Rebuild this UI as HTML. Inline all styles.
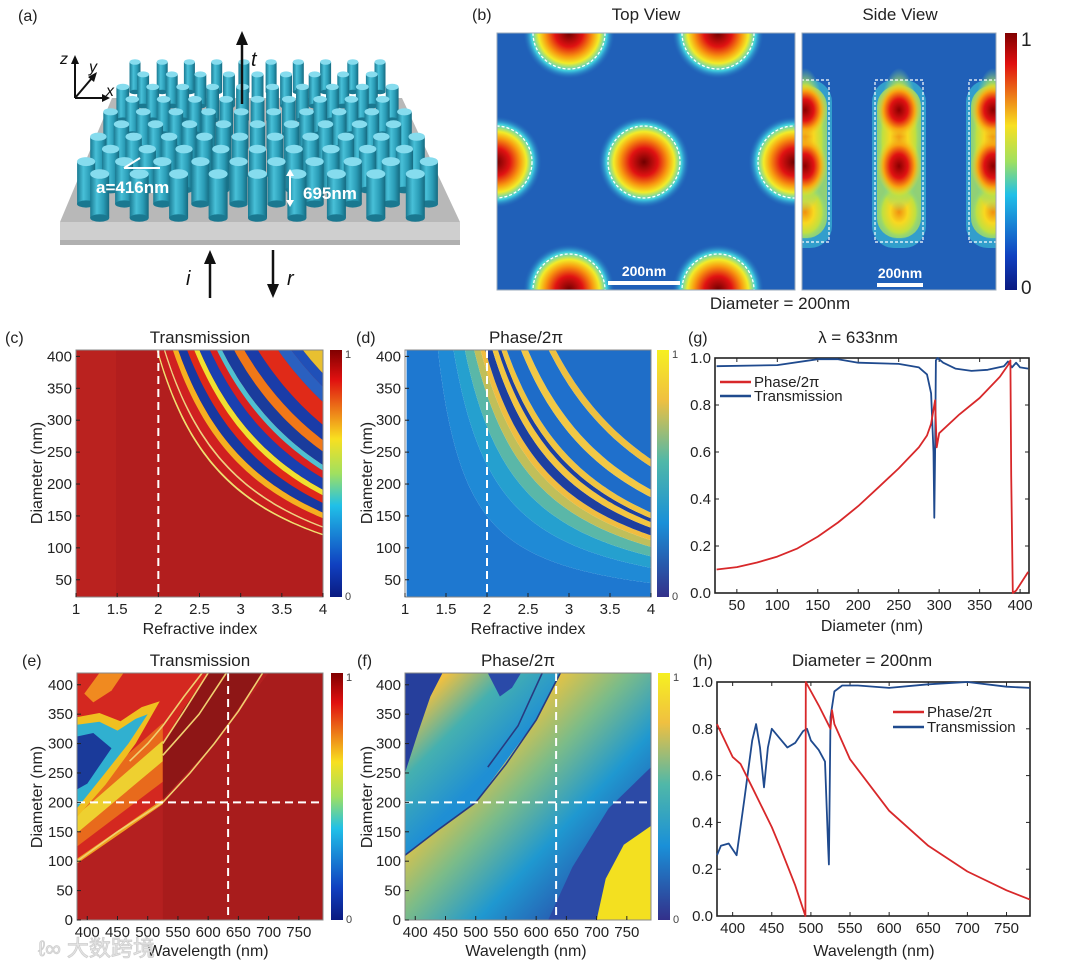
<!DOCTYPE html>
<html><head><meta charset="utf-8">
<style>
html,body{margin:0;padding:0;background:#fff;}
svg{display:block;font-family:"Liberation Sans","Noto Sans CJK SC",sans-serif;}
.t{font-size:15px;fill:#222;}
.ti{font-size:17px;fill:#222;}
.lab{font-size:16px;fill:#222;}
.ax{font-size:16px;fill:#222;}
</style></head><body>
<svg id="fig" width="1080" height="966" viewBox="0 0 1080 966" xmlns="http://www.w3.org/2000/svg">
<defs>
<clipPath id="clipC"><rect x="76" y="350" width="247" height="247"/></clipPath>
<clipPath id="clipD"><rect x="405" y="350" width="246" height="247"/></clipPath>
<clipPath id="clipE"><rect x="77" y="673" width="246" height="247"/></clipPath>
<clipPath id="clipF"><rect x="405" y="673" width="246" height="247"/></clipPath>
<clipPath id="clipTop"><rect x="497" y="33" width="298" height="257"/></clipPath>
<clipPath id="clipSide"><rect x="802" y="33" width="194" height="257"/></clipPath>
<linearGradient id="jetV" x1="0" y1="0" x2="0" y2="1">
<stop offset="0" stop-color="#800000"/><stop offset="0.12" stop-color="#e01010"/><stop offset="0.36" stop-color="#f8e020"/><stop offset="0.5" stop-color="#a0e060"/><stop offset="0.63" stop-color="#20c0e8"/><stop offset="0.87" stop-color="#1040c0"/><stop offset="1" stop-color="#0a1a80"/>
</linearGradient>
<linearGradient id="parV" x1="0" y1="0" x2="0" y2="1">
<stop offset="0" stop-color="#f6f020"/><stop offset="0.2" stop-color="#f0c040"/><stop offset="0.45" stop-color="#50b8a8"/><stop offset="0.7" stop-color="#1a90d8"/><stop offset="1" stop-color="#33308a"/>
</linearGradient>
<radialGradient id="hot" cx="0.5" cy="0.5" r="0.5">
<stop offset="0" stop-color="#700000"/><stop offset="0.3" stop-color="#e01212"/><stop offset="0.52" stop-color="#f89a10"/><stop offset="0.66" stop-color="#f2ec28"/><stop offset="0.82" stop-color="#40d0e0"/><stop offset="1" stop-color="#2060b8" stop-opacity="0"/>
</radialGradient>
<radialGradient id="hotS" cx="0.5" cy="0.5" r="0.5">
<stop offset="0" stop-color="#8a0000"/><stop offset="0.4" stop-color="#e01212"/><stop offset="0.7" stop-color="#f8a010"/><stop offset="1" stop-color="#f2e028" stop-opacity="0"/>
</radialGradient>
<radialGradient id="warm" cx="0.5" cy="0.5" r="0.5">
<stop offset="0" stop-color="#f09010"/><stop offset="0.4" stop-color="#f8d820"/><stop offset="0.75" stop-color="#c0e040"/><stop offset="1" stop-color="#80d890" stop-opacity="0"/>
</radialGradient>
<linearGradient id="cyl" x1="0" y1="0" x2="1" y2="0">
<stop offset="0" stop-color="#1a7a92"/><stop offset="0.35" stop-color="#48c0d8"/><stop offset="0.7" stop-color="#2a9cb6"/><stop offset="1" stop-color="#156a80"/>
</linearGradient>
<linearGradient id="fLow" gradientUnits="userSpaceOnUse" x1="470" y1="760" x2="610" y2="890">
<stop offset="0" stop-color="#f2c43c"/><stop offset="0.3" stop-color="#7cbc88"/><stop offset="0.6" stop-color="#1f98d0"/><stop offset="1" stop-color="#2a4aa8"/>
</linearGradient>
<linearGradient id="fUp" gradientUnits="userSpaceOnUse" x1="500" y1="760" x2="430" y2="690">
<stop offset="0" stop-color="#1f8fd4"/><stop offset="0.55" stop-color="#45b0b0"/><stop offset="1" stop-color="#f0c040"/>
</linearGradient>
</defs>
<rect x="0" y="0" width="1080" height="966" fill="#fff"/>

<g id="panelA">
<text x="18" y="21" class="lab">(a)</text>
<polygon points="112,98 402,98 460,222 60,222" fill="#b8b8b8"/>
<rect x="60" y="222" width="400" height="23" fill="#cfcfcf"/>
<rect x="60" y="240" width="400" height="5" fill="#b0b0b0"/>
<g id="pillars"></g>
<g>
<line x1="75" y1="98" x2="75" y2="62" stroke="#111" stroke-width="2"/>
<polygon points="71,64 79,64 75,55" fill="#111"/>
<line x1="75" y1="98" x2="104" y2="98" stroke="#111" stroke-width="2"/>
<polygon points="102,94 102,102 110,98" fill="#111"/>
<line x1="75" y1="98" x2="92" y2="78" stroke="#111" stroke-width="2"/>
<polygon points="88,77 94,82 97,72" fill="#111"/>
<text x="60" y="64" font-size="16" font-style="italic" fill="#111">z</text>
<text x="89" y="72" font-size="16" font-style="italic" fill="#111">y</text>
<text x="106" y="96" font-size="16" font-style="italic" fill="#111">x</text>
</g>
<g>
<line x1="242" y1="104" x2="242" y2="42" stroke="#111" stroke-width="2.5"/>
<polygon points="236,45 248,45 242,31" fill="#111"/>
<text x="251" y="66" font-size="20" font-style="italic" fill="#111">t</text>
</g>
<g>
<line x1="210" y1="298" x2="210" y2="262" stroke="#111" stroke-width="2.5"/>
<polygon points="204,264 216,264 210,250" fill="#111"/>
<text x="186" y="285" font-size="20" font-style="italic" fill="#111">i</text>
</g>
<g>
<line x1="273" y1="250" x2="273" y2="286" stroke="#111" stroke-width="2.5"/>
<polygon points="267,284 279,284 273,298" fill="#111"/>
<text x="287" y="285" font-size="20" font-style="italic" fill="#111">r</text>
</g>
<g>
<line x1="124" y1="168" x2="160" y2="168" stroke="#fff" stroke-width="2"/>
<line x1="124" y1="168" x2="140" y2="158" stroke="#fff" stroke-width="2"/>
<text x="96" y="193" font-size="17" font-weight="bold" fill="#fff">a=416nm</text>
</g>
<g>
<line x1="290" y1="172" x2="290" y2="204" stroke="#fff" stroke-width="2"/>
<polygon points="286,176 294,176 290,169" fill="#fff"/>
<polygon points="286,200 294,200 290,207" fill="#fff"/>
<text x="303" y="199" font-size="17" font-weight="bold" fill="#fff">695nm</text>
</g>
</g>

<g>
<text x="472" y="20" class="lab">(b)</text>
<text x="646" y="20" text-anchor="middle" class="ti">Top View</text>
<text x="900" y="20" text-anchor="middle" class="ti">Side View</text>
<g clip-path="url(#clipTop)">
<rect x="497" y="33" width="298" height="257" fill="#2060b8"/>
<g id="topBlobs"></g>
</g>
<rect x="497" y="33" width="298" height="257" fill="none" stroke="#9ab" stroke-width="1"/>
<line x1="608" y1="283" x2="680" y2="283" stroke="#fff" stroke-width="4"/>
<text x="644" y="276" text-anchor="middle" font-size="14" font-weight="bold" fill="#fff">200nm</text>
<g clip-path="url(#clipSide)">
<rect x="802" y="33" width="194" height="257" fill="#2060b8"/>
<g id="sideBlobs"></g>
</g>
<rect x="802" y="33" width="194" height="257" fill="none" stroke="#9ab" stroke-width="1"/>
<line x1="877" y1="285" x2="923" y2="285" stroke="#fff" stroke-width="4"/>
<text x="900" y="278" text-anchor="middle" font-size="14" font-weight="bold" fill="#fff">200nm</text>
<rect x="1005" y="33" width="12" height="257" fill="url(#jetV)"/>
<text x="1021" y="46" font-size="19" fill="#222">1</text>
<text x="1021" y="294" font-size="19" fill="#222">0</text>
<text x="780" y="309" text-anchor="middle" class="ti">Diameter = 200nm</text>
</g>

<g id="heatC" clip-path="url(#clipC)"><rect x="76" y="350" width="247" height="247" fill="#b21e1e"/><rect x="76" y="350" width="40" height="247" fill="#c22620" opacity="0.5"/></g>
<g id="heatD" clip-path="url(#clipD)"></g>
<g id="heatE" clip-path="url(#clipE)"></g>
<g id="heatF" clip-path="url(#clipF)"></g>
<g id="axesLayer"></g>
<g id="linesLayer"></g>

<rect x="330" y="350" width="12" height="247" fill="url(#jetV)"/>
<text x="345" y="358" font-size="11" fill="#444">1</text><text x="345" y="600" font-size="11" fill="#444">0</text>
<rect x="657" y="350" width="12" height="247" fill="url(#parV)"/>
<text x="672" y="358" font-size="11" fill="#444">1</text><text x="672" y="600" font-size="11" fill="#444">0</text>
<rect x="331" y="673" width="12" height="247" fill="url(#jetV)"/>
<text x="346" y="681" font-size="11" fill="#444">1</text><text x="346" y="923" font-size="11" fill="#444">0</text>
<rect x="658" y="673" width="12" height="247" fill="url(#parV)"/>
<text x="673" y="681" font-size="11" fill="#444">1</text><text x="673" y="923" font-size="11" fill="#444">0</text>

<text x="5" y="343" class="lab">(c)</text>
<text x="200" y="343" text-anchor="middle" class="ti">Transmission</text>
<text x="356" y="343" class="lab">(d)</text>
<text x="526" y="343" text-anchor="middle" class="ti">Phase/2π</text>
<text x="688" y="343" class="lab">(g)</text>
<text x="858" y="343" text-anchor="middle" class="ti">λ = 633nm</text>
<text x="22" y="666" class="lab">(e)</text>
<text x="200" y="666" text-anchor="middle" class="ti">Transmission</text>
<text x="357" y="666" class="lab">(f)</text>
<text x="518" y="666" text-anchor="middle" class="ti">Phase/2π</text>
<text x="693" y="666" class="lab">(h)</text>
<text x="862" y="666" text-anchor="middle" class="ti">Diameter = 200nm</text>

<text transform="translate(42,473) rotate(-90)" text-anchor="middle" class="ax">Diameter (nm)</text>
<text x="200" y="634" text-anchor="middle" class="ax">Refractive index</text>
<text transform="translate(372,473) rotate(-90)" text-anchor="middle" class="ax">Diameter (nm)</text>
<text x="528" y="634" text-anchor="middle" class="ax">Refractive index</text>
<text x="872" y="631" text-anchor="middle" class="ax">Diameter (nm)</text>
<text transform="translate(42,797) rotate(-90)" text-anchor="middle" class="ax">Diameter (nm)</text>
<text x="208" y="956" text-anchor="middle" class="ax">Wavelength (nm)</text>
<text transform="translate(372,797) rotate(-90)" text-anchor="middle" class="ax">Diameter (nm)</text>
<text x="526" y="956" text-anchor="middle" class="ax">Wavelength (nm)</text>
<text x="874" y="956" text-anchor="middle" class="ax">Wavelength (nm)</text>

<text x="38" y="956" font-size="22" fill="#e6e6e6" stroke="#cfcfcf" stroke-width="0.8">ℓ∞ 大数跨境</text>
</svg>
<script>
var NS='http://www.w3.org/2000/svg';
function mk(parent,tag,attrs){var e=document.createElementNS(NS,tag);for(var k in attrs)e.setAttribute(k,attrs[k]);parent.appendChild(e);return e;}
function lin(d0,d1,r0,r1){return function(v){return r0+(v-d0)/(d1-d0)*(r1-r0);};}

var gDiam=[25,50,75,100,125,150,175,200,225,250,275,285,290,293,295,297,300,325,350,375,385,388,389,391,395,410];
var gPhase=[0.10,0.11,0.13,0.155,0.19,0.24,0.30,0.37,0.45,0.53,0.62,0.67,0.72,0.78,0.82,0.62,0.68,0.76,0.83,0.92,0.97,0.99,0.5,0.0,0.01,0.09];
var gTDiam=[25,100,150,175,200,250,275,285,290,293,294,295,296,298,305,320,340,360,380,385,390,395,400,410];
var gTrans=[0.965,0.97,0.995,0.995,0.98,0.975,0.96,0.93,0.85,0.6,0.32,0.6,0.99,1.0,0.98,0.955,0.945,0.95,0.965,0.985,0.96,0.98,0.96,0.955];
var hWave=[380,400,410,425,450,460,480,493,493.5,510,525,527,530,550,600,650,700,750,780];
var hPhase=[0.82,0.68,0.65,0.55,0.38,0.30,0.13,0.0,1.0,0.9,0.8,0.88,0.82,0.67,0.45,0.30,0.19,0.11,0.07];
var hTWave=[380,385,395,405,415,425,430,435,440,445,450,460,470,480,490,495,500,510,518,522,523,525,530,540,560,600,650,700,750,780];
var hTrans=[0.26,0.30,0.31,0.26,0.5,0.75,0.82,0.72,0.55,0.72,0.8,0.76,0.72,0.74,0.79,0.8,0.75,0.71,0.66,0.3,0.22,0.85,0.96,0.985,0.985,0.975,0.99,1.0,0.98,0.975];
var gXTicks=[50,100,150,200,250,300,350,400];
var yTicks01=[0,0.2,0.4,0.6,0.8,1.0];
var hXTicks=[400,450,500,550,600,650,700,750];
var nTicks=[1,1.5,2,2.5,3,3.5,4];
var nTickLabels=['1','1.5','2','2.5','3','3.5','4'];
var dTicksCD=[50,100,150,200,250,300,350,400];
var dTicksEF=[0,50,100,150,200,250,300,350,400];
var wTicks=[400,450,500,550,600,650,700,750];

var cBandC=[400,408,440,448,490,520,570,610,640,700,740,770,840,900,980,1100,1180,1250,1400,2000];
var cBandColor=['#f0e070','#c81e1e','#f0d080','#d02020','#f5b020','#1838a0','#e02818','#f0e030','#1a40b0','#d82020','#50c0d0','#1a3c9c','#f07818','#1a3ca8','#e02a18','#2a60c0','#2050b8','#e8c030','#2a58b8'];
var dBandC=[0,150,230,290,340,375,400,440,470,490,520,600,640,760,800,1400,2000];
var dBandColor=['#1e78d0','#1f8ad6','#25a0cf','#5ab7a8','#c0bf5a','#f0bd40','#1d3f9f','#f3c640','#1d3f9f','#f0c440','#1e6cc8','#f2c845','#1f70cc','#eec040','#1f6ec8','#2a60c0'];

var eRegions=[
 {c:'#d42820',p:[[383,100],[383,420],[600,420],[525,200]]},
 {c:'#e86a1c',p:[[383,125],[383,205],[525,335],[525,235]]},
 {c:'#eed030',p:[[383,148],[383,178],[525,305],[525,270]]},
 {c:'#f0c020',p:[[383,175],[383,345],[420,352],[455,338],[490,362],[520,372],[480,300],[430,230]]},
 {c:'#30b0d0',p:[[383,190],[383,332],[420,337],[450,322],[480,342],[500,350],[468,300],[428,248]]},
 {c:'#1a3a9a',p:[[383,222],[383,312],[410,318],[440,292],[420,262],[400,232]]},
 {c:'#f08a20',p:[[395,385],[420,420],[460,420],[440,390],[410,370]]},
 {c:'#a81c1c',p:[[525,0],[790,0],[790,420],[700,420],[610,300],[525,200]]},
 {c:'#8e1616',p:[[525,205],[525,300],[560,360],[600,420],[690,420],[610,300]]},
 {c:'#f0a020',p:[[383,96],[383,104],[525,205],[525,197]]}
];
var eCurves=[
 [[383,100],[450,150],[525,200],[570,250],[610,300],[650,355],[690,420]],
 [[525,280],[555,315],[585,350],[630,420]],
 [[525,300],[560,355],[600,420]],
 [[470,270],[500,300],[525,330],[560,380],[590,420]]
];
var fRegions=[
 {c:'url(#fLow)',p:[[383,0],[790,0],[790,420],[640,420],[600,340],[500,200],[383,110]]},
 {c:'url(#fUp)',p:[[383,110],[500,200],[600,340],[640,420],[383,420]]},
 {c:'#263f9c',p:[[383,250],[383,420],[445,420],[425,380],[405,320]]},
 {c:'#2a4aa8',p:[[520,420],[575,420],[560,395],[540,380]]},
 {c:'#2c4aa6',p:[[620,0],[705,0],[720,60],[760,120],[790,150],[790,260],[720,190],[660,90]]},
 {c:'#f3e020',p:[[700,0],[790,0],[790,160],[745,128],[715,70]]}
];
var fCurves=[
 [[383,110],[440,155],[500,200],[550,265],[600,340],[640,420]],
 [[520,260],[570,330],[610,420]]
];

var cx=lin(1,4,76,323), cy=lin(23,410,597,350);
var dx=lin(1,4,405,651), dy=cy;
var ex=lin(383,790,77,323), ey=lin(0,420,920,673);
var fx=lin(383,790,405,651), fy=ey;
var gx=lin(23,411,715,1029), gy=lin(0,1,593,358);
var hx=lin(380,780,717,1030), hy=lin(0,1,916,682);

function curvePts(c,sx,sy){var pts=[];for(var i=0;i<=80;i++){var n=1.02+i*(2.98/80);var D=c/Math.pow(n-1,1.1);if(D>3000)D=3000;pts.push(sx(n).toFixed(1)+','+sy(D).toFixed(1));}return pts;}
function drawBands(g,cs,cols,sx,sy,name){
 for(var k=0;k<cols.length;k++){
  var lo=curvePts(cs[k],sx,sy), hi=curvePts(cs[k+1],sx,sy).reverse();
  var el=mk(g,'polygon',{points:lo.concat(hi).join(' '),fill:cols[k]});
  
  
 }
}
drawBands(document.getElementById('heatC'),cBandC,cBandColor,cx,cy,'transmission-index');
drawBands(document.getElementById('heatD'),dBandC,dBandColor,dx,dy,'phase-index');

function drawRegions(g,regs,sx,sy,name){
 regs.forEach(function(r){
  var el=mk(g,'polygon',{points:r.p.map(function(q){return sx(q[0]).toFixed(1)+','+sy(q[1]).toFixed(1);}).join(' '),fill:r.c});
  
  
 });
}
function drawCurves(g,cs,sx,sy,col,name){
 cs.forEach(function(cv){
  var el=mk(g,'polyline',{points:cv.map(function(q){return sx(q[0]).toFixed(1)+','+sy(q[1]).toFixed(1);}).join(' '),fill:'none',stroke:col,'stroke-width':1.6});
  
  
 });
}
var hE=document.getElementById('heatE');
mk(hE,'rect',{x:77,y:673,width:246,height:247,fill:'#b42020'});
drawRegions(hE,eRegions,ex,ey,'transmission-wavelength');
drawCurves(hE,eCurves,ex,ey,'#f0d070','transmission-wavelength');
var hF=document.getElementById('heatF');
drawRegions(hF,fRegions,fx,fy,'phase-wavelength');
drawCurves(hF,fCurves,fx,fy,'#283a80','phase-wavelength');

var ax=document.getElementById('axesLayer');
function dash(x1,y1,x2,y2,name){var el=mk(ax,'line',{x1:x1,y1:y1,x2:x2,y2:y2,stroke:'#fff','stroke-width':2,'stroke-dasharray':'8,5'});}
dash(cx(2),350,cx(2),597,'guide-n2-c');
dash(dx(2),350,dx(2),597,'guide-n2-d');
dash(ex(633),673,ex(633),920,'guide-633-e');
dash(77,ey(200),323,ey(200),'guide-200-e');
dash(fx(633),673,fx(633),920,'guide-633-f');
dash(405,fy(200),651,fy(200),'guide-200-f');

function axes(x0,y0,x1,y1,xt,xl,sx,yt,yl,sy,name,box){
 var fr=mk(ax,'rect',{x:x0,y:y0,width:x1-x0,height:y1-y0,fill:'none',stroke:box,'stroke-width':box=='#222'?1.6:1});
 
 
 xt.forEach(function(v,i){var X=sx(v);
  mk(ax,'line',{x1:X,y1:y1,x2:X,y2:y1-4,stroke:'#222'});
  if(box=='#222')mk(ax,'line',{x1:X,y1:y0,x2:X,y2:y0+4,stroke:'#222'});
  var t=mk(ax,'text',{x:X,y:y1+17,'text-anchor':'middle','class':'t'});t.textContent=xl[i];
  
  
 });
 yt.forEach(function(v,i){var Y=sy(v);
  mk(ax,'line',{x1:x0,y1:Y,x2:x0+4,y2:Y,stroke:'#222'});
  if(box=='#222')mk(ax,'line',{x1:x1,y1:Y,x2:x1-4,y2:Y,stroke:'#222'});
  var t=mk(ax,'text',{x:x0-4,y:Y+5,'text-anchor':'end','class':'t'});t.textContent=yl[i];
  
  
 });
}
function strs(a,d){return a.map(function(v){return d!=null?v.toFixed(d):String(v);});}
axes(76,350,323,597,nTicks,nTickLabels,cx,dTicksCD,strs(dTicksCD),cy,'panel-c','#888');
axes(405,350,651,597,nTicks,nTickLabels,dx,dTicksCD,strs(dTicksCD),dy,'panel-d','#888');
axes(77,673,323,920,wTicks,strs(wTicks),ex,dTicksEF,strs(dTicksEF),ey,'panel-e','#888');
axes(405,673,651,920,wTicks,strs(wTicks),fx,dTicksEF,strs(dTicksEF),fy,'panel-f','#888');
axes(715,358,1029,593,gXTicks,strs(gXTicks),gx,yTicks01,strs(yTicks01,1),gy,'panel-g','#222');
axes(717,682,1030,916,hXTicks,strs(hXTicks),hx,yTicks01,strs(yTicks01,1),hy,'panel-h','#222');

var LL=document.getElementById('linesLayer');
function line(xs,ys,sx,sy,col,name){
 var el=mk(LL,'polyline',{points:xs.map(function(v,i){return sx(v).toFixed(1)+','+sy(ys[i]).toFixed(1);}).join(' '),fill:'none',stroke:col,'stroke-width':1.8,'stroke-linejoin':'round'});
 
 
}
line(gTDiam,gTrans,gx,gy,'#1f4a8e','g-transmission-line');
line(gDiam,gPhase,gx,gy,'#d8282a','g-phase-line');
line(hTWave,hTrans,hx,hy,'#1f4a8e','h-transmission-line');
line(hWave,hPhase,hx,hy,'#d8282a','h-phase-line');
function legend(x,y,col,label,name){
 var g=mk(LL,'g',{});
 
 
 mk(g,'line',{x1:x,y1:y-5,x2:x+31,y2:y-5,stroke:col,'stroke-width':2.5});
 var t=mk(g,'text',{x:x+34,y:y,'class':'t'});t.textContent=label;
}
legend(720,387,'#d8282a','Phase/2π','legend-g-phase');
legend(720,401,'#1f4a8e','Transmission','legend-g-transmission');
legend(893,717,'#d8282a','Phase/2π','legend-h-phase');
legend(893,732,'#1f4a8e','Transmission','legend-h-transmission');

var tb=document.getElementById('topBlobs');
var topCx=[569,718,496,644,794,569,718];
var topCy=[33,33,162,162,162,290,290];
topCx.forEach(function(X,i){
 var b=mk(tb,'circle',{cx:X,cy:topCy[i],r:46,fill:'url(#hot)'});
 
 
 var c=mk(tb,'circle',{cx:X,cy:topCy[i],r:36,fill:'none',stroke:'#fff','stroke-width':1.3,'stroke-dasharray':'3,2'});
 
 
});
var sb=document.getElementById('sideBlobs');
var colX=[805,899,993];
colX.forEach(function(X){
 mk(sb,'rect',{x:X-27,y:80,width:54,height:168,rx:22,fill:'#40c8d8',opacity:0.6});
 mk(sb,'rect',{x:X-22,y:86,width:44,height:152,rx:20,fill:'#a8dc60',opacity:0.8});
 mk(sb,'ellipse',{cx:X,cy:212,rx:22,ry:28,fill:'url(#warm)'});
 mk(sb,'ellipse',{cx:X,cy:140,rx:22,ry:72,fill:'url(#warm)'});
 var a=mk(sb,'ellipse',{cx:X,cy:110,rx:22,ry:27,fill:'url(#hotS)'});
 
 
 var b=mk(sb,'ellipse',{cx:X,cy:166,rx:22,ry:30,fill:'url(#hotS)'});
 
 
 var r=mk(sb,'rect',{x:X-24,y:80,width:48,height:162,fill:'none',stroke:'#fff','stroke-width':1.2,'stroke-dasharray':'3,2'});
 
 
});

var pg=document.getElementById('pillars');
for(var i=0;i<10;i++){
 var t=i/9, yt=62+t*112, h=30+t*14, w=11+t*8;
 var xl=135-t*55, xr=380+t*55, sp=(xr-xl)/9;
 var off=(i%2)?sp/2:0, cnt=(i%2)?9:10;
 for(var j=0;j<cnt;j++){
  var X=xl+off+j*sp;
  var p=mk(pg,'g',{});
  
  
  mk(p,'rect',{x:(X-w/2).toFixed(1),y:yt.toFixed(1),width:w.toFixed(1),height:h.toFixed(1),fill:'url(#cyl)'});
  mk(p,'ellipse',{cx:X.toFixed(1),cy:(yt+h).toFixed(1),rx:(w/2).toFixed(1),ry:(w/5).toFixed(1),fill:'#1a7890'});
  mk(p,'ellipse',{cx:X.toFixed(1),cy:yt.toFixed(1),rx:(w/2).toFixed(1),ry:(w/4).toFixed(1),fill:'#86dcee'});
 }
}
</script>
</body></html>
